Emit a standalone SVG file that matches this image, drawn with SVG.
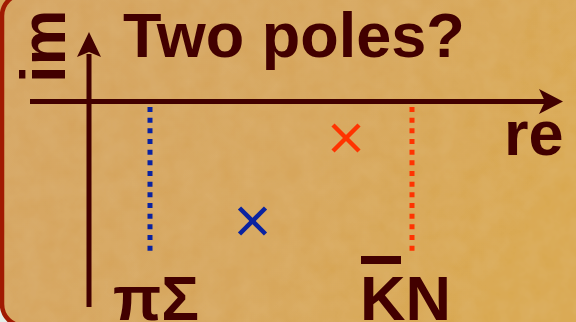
<svg xmlns="http://www.w3.org/2000/svg" width="576" height="322" viewBox="0 0 576 322">
  <defs>
    <linearGradient id="bg" x1="0" y1="0" x2="1" y2="0.3">
      <stop offset="0" stop-color="#D4A25E"/>
      <stop offset="0.6" stop-color="#D6A458"/>
      <stop offset="1" stop-color="#D8A64B"/>
    </linearGradient>
    <filter id="tex" x="0" y="0" width="1" height="1">
      <feTurbulence type="fractalNoise" baseFrequency="0.05" numOctaves="3" seed="4" result="n"/>
      <feColorMatrix in="n" type="matrix" values="0 0 0 0 0.88  0 0 0 0 0.72  0 0 0 0 0.40  0 0 0 0.16 0" result="c"/>
      <feComposite in="c" in2="SourceGraphic" operator="atop"/>
    </filter>
    <style>
      .lbl { font-family: "Liberation Sans", Arial, sans-serif; font-weight: bold; font-size: 63px; fill: #420000; }
      .axis { stroke: #420000; stroke-width: 5; fill: none; }
      .head { fill: #420000; }
      .dotb { stroke: #0A22A0; stroke-width: 5; stroke-dasharray: 5 5.67; fill: none; }
      .dotr { stroke: #FF3300; stroke-width: 5; stroke-dasharray: 5 5.67; fill: none; }
      .xb { stroke: #0A22A0; stroke-width: 4.5; }
      .xr { stroke: #FF3300; stroke-width: 4.5; }
    </style>
  </defs>
  <rect x="0" y="0" width="576" height="322" fill="#D6A55C"/>
  <rect x="0" y="296" width="24" height="26" fill="#E4EEE8"/>
  <rect x="2" y="-6" width="600" height="332" rx="22" ry="22" fill="url(#bg)" filter="url(#tex)"/>
  <rect x="2" y="-6" width="600" height="332" rx="22" ry="22" fill="none" stroke="#A11A02" stroke-width="4.5"/>

  <g id="connectors">
    <line class="axis" x1="89" y1="54" x2="89" y2="307"/>
    <path class="head" d="M89,32 L101,57 L89,52 L77,57 Z"/>
    <line class="axis" x1="30" y1="101.5" x2="545" y2="101.5"/>
    <path class="head" d="M563,101.5 L539,89 L545,101.5 L539,114 Z"/>
    <line class="dotb" x1="150" y1="107" x2="150" y2="252"/>
    <line class="dotr" x1="412" y1="107" x2="412" y2="252"/>
  </g>

  <g id="title"><text class="lbl" x="123" y="57">Two poles?</text></g>
  <g id="im-label"><text class="lbl" transform="translate(65,83) rotate(-90)">im</text></g>
  <g id="re-label"><text class="lbl" x="504" y="155">re</text></g>

  <g id="pole-red">
    <line class="xr" x1="333" y1="125" x2="359" y2="151"/>
    <line class="xr" x1="359" y1="125" x2="333" y2="151"/>
  </g>
  <g id="pole-blue">
    <line class="xb" x1="239.5" y1="208" x2="265.5" y2="234"/>
    <line class="xb" x1="265.5" y1="208" x2="239.5" y2="234"/>
  </g>

  <g id="piSigma"><text class="lbl" x="113" y="320">πΣ</text></g>
  <g id="KbarN">
    <rect x="361" y="256" width="40" height="8" fill="#420000"/>
    <text class="lbl" x="360" y="320">KN</text>
  </g>
</svg>
